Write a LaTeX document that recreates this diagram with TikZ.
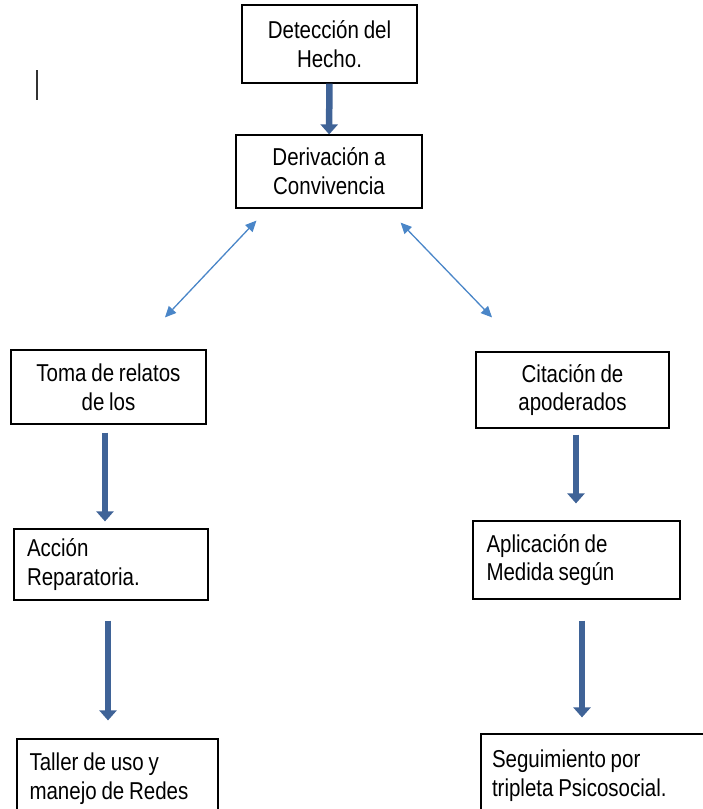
\documentclass[tikz,border=0pt]{standalone}
\usepackage{fontspec}
\setmainfont{Liberation Sans}[FakeStretch=0.84,WordSpace=0.84]
\usepackage{tikz}
\usetikzlibrary{arrows.meta}

\definecolor{darkarrow}{HTML}{3F6397}
\definecolor{lightarrow}{HTML}{4A86C8}

\begin{document}
\begin{tikzpicture}[
  box/.style={draw,rectangle,line width=1.2bp,inner sep=0pt,font=\fontsize{24.5}{29}\selectfont},
  leftbox/.style={box,align=left,text width=#1,execute at begin node={\spaceskip=0pt\xspaceskip=0pt\relax}},
  fatarrow/.style={-{Triangle[width=17bp,length=10bp]},line width=6.5bp,darkarrow},
  thinarrow/.style={{Triangle[width=10bp,length=11bp]}-{Triangle[width=10bp,length=11bp]},line width=1.3bp,lightarrow}
]
\useasboundingbox (0,0) rectangle (703bp,-809bp);
\clip (0,0) rectangle (703bp,-809bp);

\node (detec) at (329.5bp,-44bp)[box,minimum width=175bp,minimum height=78bp,align=center] {Detección del\\Hecho.};
\node (deriv) at (329bp,-171.5bp)[box,minimum width=186bp,minimum height=73bp,align=center] {Derivación a\\Convivencia};
\node (toma) at (108.5bp,-387bp)[box,minimum width=195bp,minimum height=74bp,align=center] {Toma de relatos\\de los};
\node (citac) at (572.5bp,-390bp)[box,minimum width=193bp,minimum height=76bp,align=center] {Citación de\\apoderados};
\node (accion) at (111bp,-564.5bp)[leftbox=168bp,minimum width=194bp,minimum height=71bp] {Acción\\Reparatoria.};
\node (aplic) at (576.5bp,-560bp)[leftbox=180bp,minimum width=207bp,minimum height=78bp] {Aplicación de\\Medida según};
\node (taller) at (117.5bp,-779bp)[leftbox=176bp,minimum width=201bp,minimum height=80bp] {Taller de uso y\\manejo de Redes};
\node (segui) at (598bp,-776bp)[leftbox=212bp,minimum width=234bp,minimum height=84bp] {Seguimiento por\\tripleta Psicosocial.};

% free ends of the double arrows
\coordinate (dl) at ([xshift=21bp,yshift=-12bp]deriv.south west);
\coordinate (tl) at ([xshift=56.5bp,yshift=32bp]toma.north);
\coordinate (dr) at ([xshift=-22bp,yshift=-14bp]deriv.south east);
\coordinate (cr) at ([xshift=-80.5bp,yshift=34bp]citac.north);

\draw [fatarrow] (detec) -- (deriv);
\draw [thinarrow] (dl) -- (tl);
\draw [thinarrow] (dr) -- (cr);
\draw [fatarrow,shorten <=8bp,shorten >=7bp] ([xshift=-3.5bp]toma.south) -- ([xshift=-3.5bp]toma.south |- accion.north);
\draw [fatarrow,shorten <=20bp,shorten >=18bp] ([xshift=-3bp]accion.south) -- ([xshift=-3bp]accion.south |- taller.north);
\draw [fatarrow,shorten <=6bp,shorten >=17bp] ([xshift=3.5bp]citac.south) -- ([xshift=3.5bp]citac.south |- aplic.north);
\draw [fatarrow,shorten <=21bp,shorten >=16bp] ([xshift=5.5bp]aplic.south) -- ([xshift=5.5bp]aplic.south |- segui.north);

% stray mark on the left
\draw [line width=2bp,black!80] (37bp,-70bp) -- (37bp,-100bp);
\end{tikzpicture}
\end{document}
